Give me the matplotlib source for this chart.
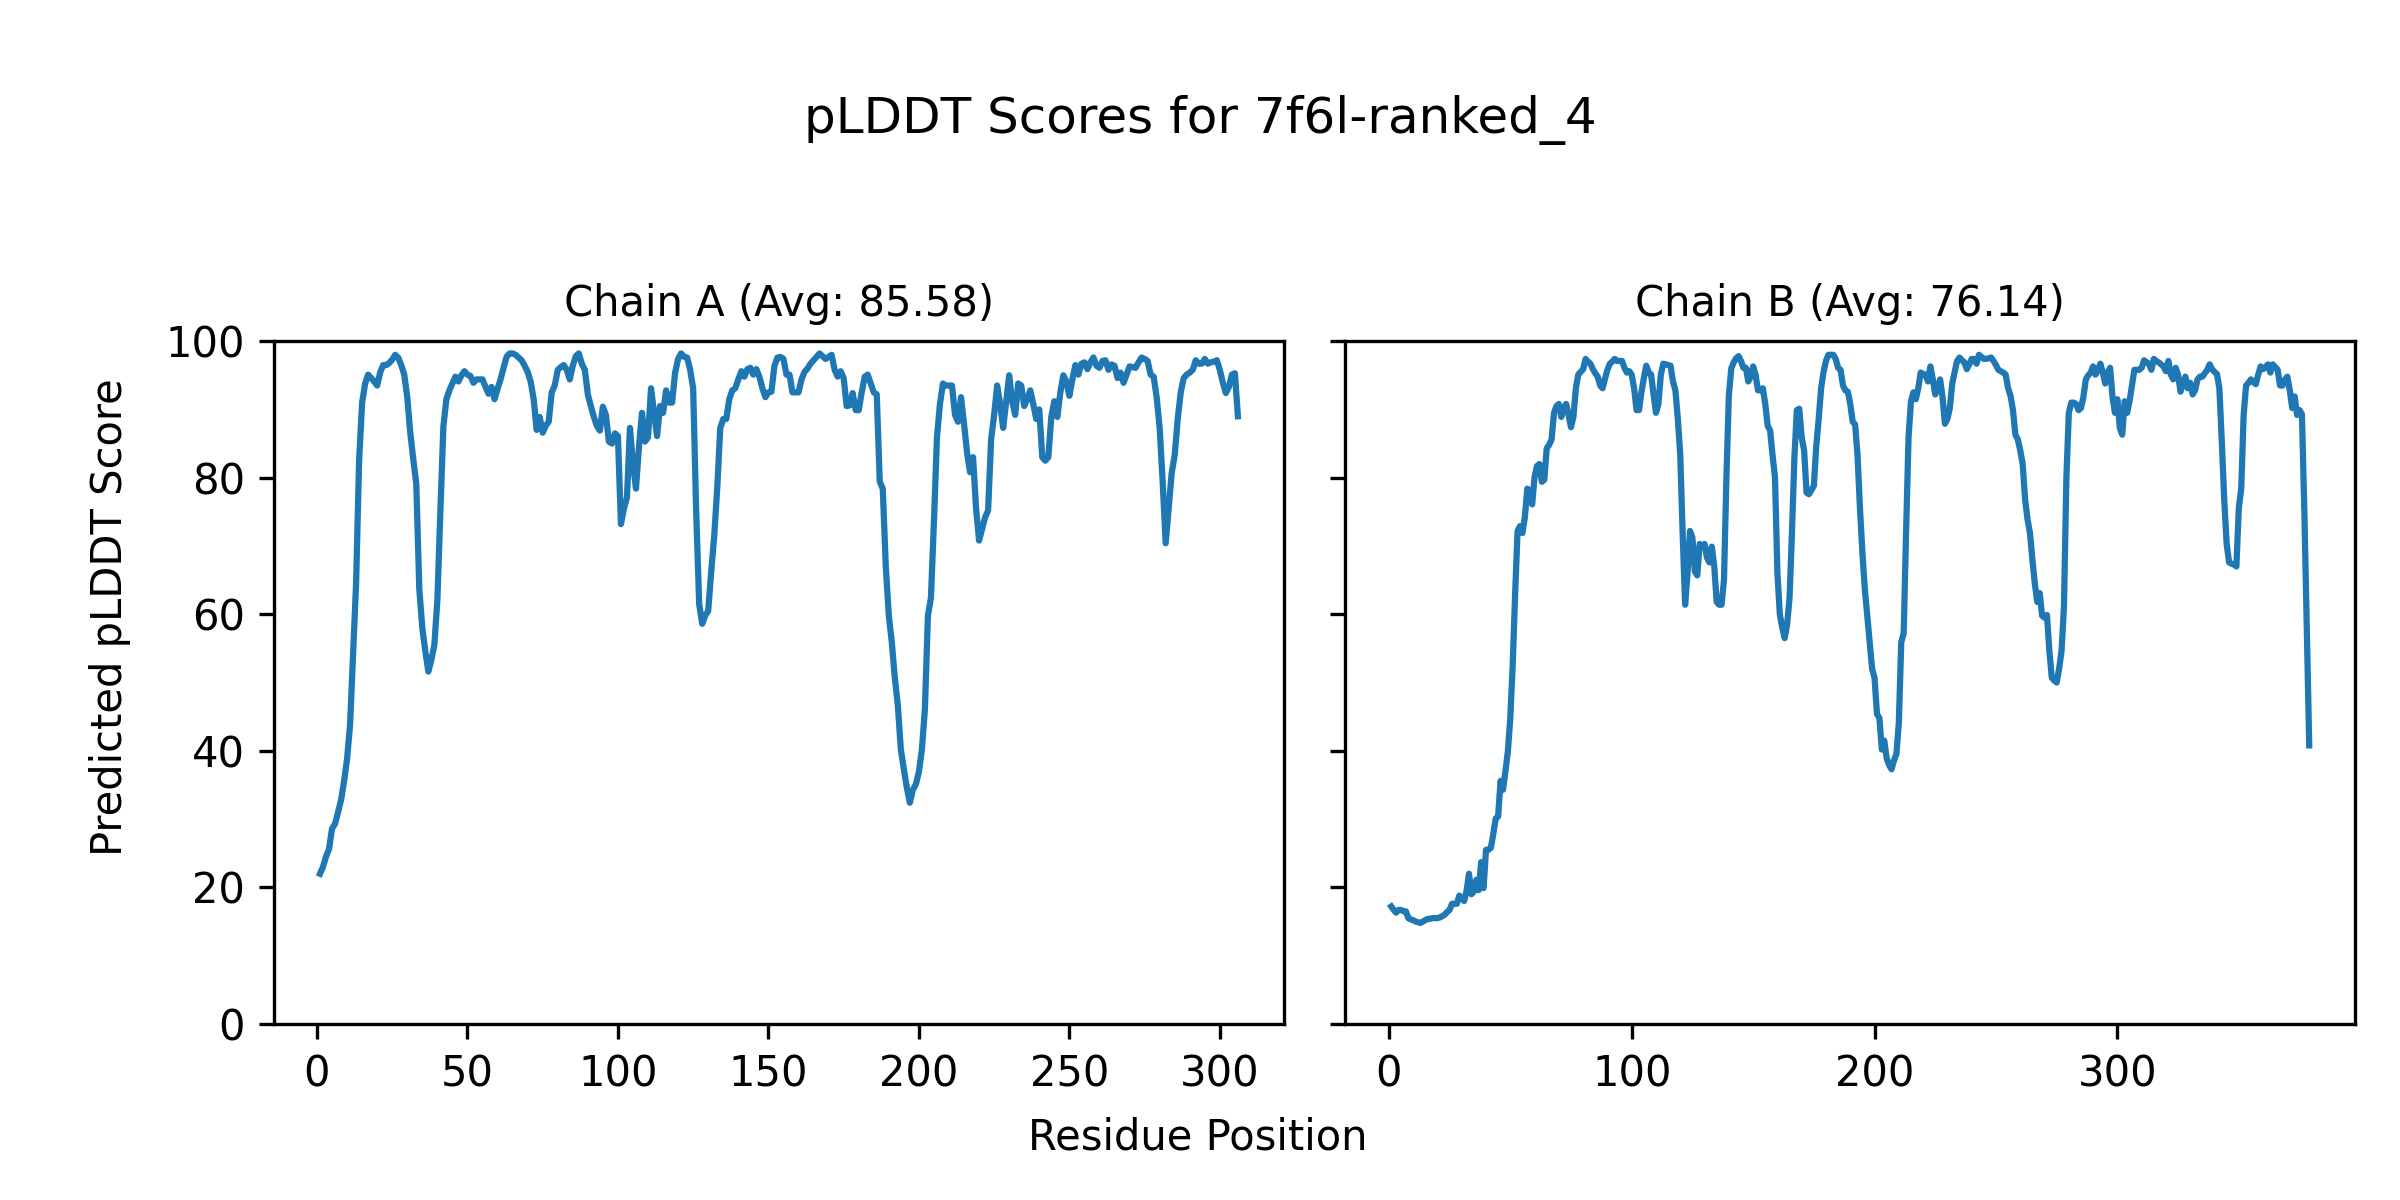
import matplotlib
matplotlib.use("Agg")
import matplotlib.pyplot as plt
import numpy as np

model_name = "7f6l-ranked_4"
chain_ids = ["A", "B"]
chain_avgs = [85.58, 76.14]

# per-residue pLDDT, chain A (306 residues)
plddt_a = [
    22.0, 23.0, 24.5, 25.6, 28.6, 29.3, 31.0, 32.8, 35.5, 38.8,
    43.8, 54.0, 64.5, 82.5, 91.0, 93.8, 95.1, 94.6, 94.1, 93.5,
    95.4, 96.5, 96.5, 96.8, 97.3, 98.0, 97.6, 96.5, 95.1, 91.8,
    86.6, 82.7, 79.1, 63.7, 58.0, 54.6, 51.6, 53.3, 55.5, 62.0,
    75.0, 87.5, 91.5, 92.8, 93.8, 94.8, 94.1, 95.0, 95.6, 95.1,
    94.9, 93.9, 94.4, 94.4, 94.4, 93.3, 92.3, 93.3, 91.5, 93.0,
    94.4, 96.1, 97.7, 98.2, 98.2, 98.0, 97.6, 97.2, 96.4, 95.5,
    94.1, 91.5, 87.0, 88.9, 86.6, 87.6, 88.2, 92.5, 93.5, 95.8,
    96.2, 96.5, 95.8, 94.4, 96.4, 97.8, 98.2, 96.7, 95.8, 92.2,
    90.5, 88.9, 87.6, 86.9, 90.4, 89.2, 85.3, 85.0, 86.5, 86.1,
    73.2, 75.5, 77.1, 87.3, 82.0, 78.4, 84.6, 89.5, 85.3, 85.9,
    93.1, 89.5, 86.1, 90.5, 89.5, 92.8, 91.0, 91.0, 95.4, 97.4,
    98.2, 97.7, 97.6, 95.8, 93.1, 75.0, 61.5, 58.6, 59.8, 60.5,
    66.3, 71.5, 78.5, 87.3, 88.6, 88.6, 91.5, 92.8, 93.1, 94.4,
    95.6, 94.8, 95.9, 96.1, 95.1, 95.9, 94.8, 93.1, 91.8, 92.5,
    92.6, 96.4, 97.6, 97.7, 97.4, 95.1, 95.1, 92.5, 92.5, 92.5,
    94.4, 95.5, 96.0, 96.7, 97.2, 97.7, 98.2, 97.8, 97.4, 97.7,
    98.0, 95.8, 94.8, 95.6, 94.6, 90.5, 90.6, 92.4, 89.9, 89.9,
    92.5, 94.8, 95.1, 93.8, 92.5, 92.2, 79.4, 78.4, 67.0, 59.8,
    55.9, 50.7, 46.7, 40.2, 37.3, 34.6, 32.4, 34.3, 35.1, 36.9,
    40.2, 46.1, 59.8, 62.4, 73.5, 85.9, 90.8, 93.8, 93.5, 93.5,
    93.5, 89.2, 88.2, 91.8, 87.9, 83.7, 80.8, 83.0, 75.5, 70.8,
    72.5, 74.2, 75.2, 85.6, 89.2, 93.5, 90.8, 87.3, 91.2, 95.0,
    91.2, 89.2, 93.8, 93.5, 90.5, 91.5, 92.8, 90.8, 88.6, 90.0,
    83.0, 82.5, 83.0, 88.9, 91.2, 88.9, 92.5, 95.0, 94.1, 92.0,
    94.4, 96.5, 95.1, 96.7, 96.9, 95.9, 96.9, 97.6, 96.4, 96.1,
    97.1, 97.2, 95.8, 96.6, 96.4, 94.6, 95.4, 93.9, 95.1, 96.3,
    96.2, 96.1, 96.9, 97.6, 97.4, 97.1, 95.1, 94.8, 91.8, 87.3,
    79.4, 70.4, 75.5, 80.7, 83.3, 88.6, 92.5, 94.6, 95.1, 95.4,
    95.8, 97.2, 96.7, 96.7, 97.4, 96.7, 96.9, 97.0, 97.2, 95.8,
    93.9, 92.4, 93.3, 95.1, 95.3, 89.0,
]

# per-residue pLDDT, chain B (379 residues)
plddt_b = [
    17.2, 16.7, 16.3, 16.7, 16.7, 16.5, 16.5, 15.5, 15.3, 15.2,
    15.0, 14.9, 14.8, 15.0, 15.2, 15.4, 15.4, 15.5, 15.5, 15.5,
    15.6, 15.8, 16.0, 16.4, 16.7, 17.6, 17.6, 17.6, 18.8, 18.4,
    18.0, 19.5, 22.0, 19.0, 19.4, 21.1, 19.6, 23.7, 19.9, 25.5,
    25.5, 25.8, 27.8, 30.1, 30.4, 35.6, 34.3, 37.0, 39.9, 44.8,
    52.6, 63.0, 72.2, 72.9, 71.9, 74.2, 78.4, 78.1, 76.1, 80.1,
    81.7, 82.0, 79.4, 79.7, 84.3, 84.8, 85.6, 89.5, 90.5, 90.8,
    88.9, 90.2, 90.8, 89.2, 87.4, 88.9, 93.1, 95.1, 95.5, 95.9,
    97.4, 97.0, 96.7, 95.9, 95.3, 94.8, 93.5, 93.1, 94.5, 95.8,
    96.7, 97.0, 97.4, 97.1, 97.1, 97.1, 96.1, 95.4, 95.6, 95.1,
    93.1, 89.9, 89.9, 92.5, 94.6, 96.4, 95.4, 95.1, 92.2, 89.5,
    90.8, 95.1, 96.7, 96.6, 96.5, 96.4, 94.1, 92.8, 88.6, 83.3,
    71.6, 61.4, 66.0, 72.2, 71.2, 66.3, 65.7, 70.3, 69.9, 70.3,
    68.3, 67.6, 69.9, 67.0, 61.8, 61.4, 61.4, 65.0, 80.0, 92.0,
    96.0, 96.9, 97.5, 97.8, 97.1, 96.1, 96.1, 94.1, 94.8, 96.3,
    95.1, 92.8, 92.8, 93.1, 90.8, 87.6, 86.9, 83.3, 80.1, 66.0,
    60.0, 58.0, 56.5, 58.5, 62.4, 72.0, 83.0, 89.9, 90.1, 85.9,
    84.0, 77.8, 77.6, 78.2, 78.8, 84.6, 88.6, 93.1, 95.5, 97.1,
    98.0, 98.0, 98.0, 97.4, 96.1, 95.8, 93.5, 92.8, 92.6, 90.8,
    88.2, 87.8, 83.3, 75.5, 69.0, 63.7, 59.8, 55.9, 52.0, 50.7,
    45.4, 44.8, 40.2, 41.5, 38.9, 37.9, 37.3, 38.6, 39.5, 44.1,
    55.9, 57.2, 72.2, 85.9, 91.2, 92.5, 91.5, 93.1, 95.4, 95.2,
    95.1, 94.1, 96.3, 94.4, 92.2, 93.1, 94.4, 91.8, 87.9, 88.6,
    90.2, 93.8, 95.5, 97.1, 97.6, 97.2, 96.9, 95.9, 96.6, 97.4,
    97.4, 96.7, 98.0, 97.7, 97.4, 97.4, 97.5, 97.6, 97.1, 96.5,
    95.8, 95.6, 95.4, 95.1, 93.1, 92.0, 89.9, 86.3, 85.6, 84.0,
    82.0, 76.8, 73.9, 71.9, 68.0, 64.5, 61.8, 63.1, 59.8, 59.5,
    59.9, 54.6, 50.7, 50.3, 50.0, 52.0, 54.6, 61.1, 80.0, 89.5,
    91.0, 91.0, 90.8, 89.9, 90.2, 91.8, 94.4, 95.0, 95.4, 96.3,
    95.1, 95.8, 96.7, 95.4, 93.8, 95.4, 96.1, 91.8, 89.5, 91.5,
    87.3, 86.3, 91.2, 89.5, 91.2, 93.5, 95.8, 95.8, 95.8, 96.1,
    97.2, 96.9, 96.7, 95.8, 97.4, 97.1, 96.9, 96.6, 96.3, 95.6,
    97.1, 95.1, 94.4, 96.1, 95.1, 92.6, 93.7, 94.8, 93.1, 93.9,
    92.2, 92.8, 94.4, 94.8, 94.8, 95.3, 95.8, 96.6, 95.9, 95.5,
    95.2, 93.1, 85.3, 76.8, 70.3, 67.6, 67.4, 67.3, 67.0, 75.5,
    78.4, 89.2, 93.5, 93.9, 94.4, 94.0, 93.7, 95.1, 96.3, 95.9,
    96.2, 96.6, 95.4, 96.6, 96.2, 95.8, 93.5, 93.5, 94.4, 94.8,
    92.8, 90.2, 91.9, 89.2, 89.9, 89.3, 75.0, 58.0, 40.8,
]

chains = [plddt_a, plddt_b]

fig, axes = plt.subplots(1, 2, figsize=(8, 4), dpi=300, sharey=True)

for ax, cid, avg, scores in zip(axes, chain_ids, chain_avgs, chains):
    positions = np.arange(1, len(scores) + 1)
    ax.plot(positions, scores, color="#1f77b4", linewidth=1.5)
    ax.set_title(f"Chain {cid} (Avg: {avg:.2f})", fontsize=10)
    ax.set_ylim(0, 100)

fig.suptitle(f"pLDDT Scores for {model_name}", fontsize=12, y=0.90, va="center")
fig.text(0.499, 0.052, "Residue Position", ha="center", va="center", fontsize=10)
fig.text(0.046, 0.486, "Predicted pLDDT Score", ha="center", va="center",
         rotation="vertical", fontsize=10)

plt.subplots_adjust(left=0.1142, right=0.9813, bottom=0.1467, top=0.7157, wspace=0.061)
plt.savefig("out.png", dpi=300)
